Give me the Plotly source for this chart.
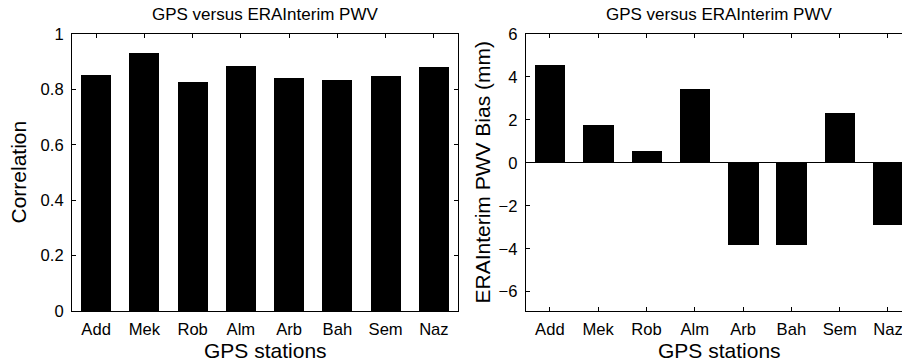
import plotly.graph_objects as go

stations = ["Add", "Mek", "Rob", "Alm", "Arb", "Bah", "Sem", "Naz"]
correlation = [0.851, 0.931, 0.827, 0.886, 0.841, 0.835, 0.847, 0.880]
bias_mm = [4.54, 1.74, 0.54, 3.42, -3.81, -3.84, 2.30, -2.91]
corr_ticks = [0, 0.2, 0.4, 0.6, 0.8, 1]
corr_ticktext = ["0", "0.2", "0.4", "0.6", "0.8", "1"]
bias_ticks = [-6, -4, -2, 0, 2, 4, 6]

title_text = "GPS versus ERAInterim PWV"
xlabel = "GPS stations"
ylabel1 = "Correlation"
ylabel2 = "ERAInterim PWV Bias (mm)"

FONT = "Liberation Sans, Arial, sans-serif"
W, H = 902, 362
ML, MR, MT, MB = 72, 0, 34, 51
PW = W - ML - MR
PH = H - MT - MB

def px_x(p):
    return (p - ML) / PW

def px_y(p):
    return 1 - (p - MT) / PH

fig = go.Figure()
fig.add_trace(go.Bar(x=stations, y=correlation, width=0.62,
                     marker=dict(color="black", line=dict(width=0)),
                     xaxis="x", yaxis="y", showlegend=False))
fig.add_trace(go.Bar(x=stations, y=bias_mm, width=0.63,
                     marker=dict(color="black", line=dict(width=0)),
                     xaxis="x2", yaxis="y2", showlegend=False))

axis_common = dict(showgrid=False, showline=True, linecolor="black", linewidth=1,
                   ticks="inside", ticklen=4, tickcolor="black", tickwidth=1,
                   tickfont=dict(family=FONT, size=16.6, color="black"))

x1_dom = [0, px_x(458)]
x2_dom = [px_x(525.7), 1]
x2_full_end = px_x(525.7 + 48.36 * 8)

fig.update_layout(
    width=W, height=H,
    margin=dict(l=ML, r=MR, t=MT, b=MB),
    paper_bgcolor="white", plot_bgcolor="white",
    bargap=0,
    font=dict(family=FONT, color="black"),
    xaxis=dict(domain=x1_dom, range=[-0.5, 7.5], mirror="ticks", anchor="y",
               zeroline=False, ticklabelstandoff=3, **axis_common),
    yaxis=dict(domain=[0, 1], range=[0, 1], tickvals=corr_ticks, ticktext=corr_ticktext,
               mirror="ticks", anchor="x", zeroline=False, ticklabelstandoff=4, **axis_common),
    xaxis2=dict(domain=x2_dom, range=[-0.5, 7.29], mirror="ticks", anchor="y2",
                zeroline=False, ticklabelstandoff=3, **axis_common),
    yaxis2=dict(domain=[0, 1], range=[-6.9, 6], tickvals=bias_ticks,
                mirror=False, anchor="x2", zeroline=True, zerolinecolor="black",
                zerolinewidth=1, ticklabelstandoff=4, **axis_common),
)

ann = []
for left, right in ((x1_dom[0], x1_dom[1]), (x2_dom[0], x2_full_end)):
    cx = (left + right) / 2
    ann.append(dict(text=title_text, xref="paper", yref="paper", x=cx,
                    y=px_y(15), xanchor="center", yanchor="middle", showarrow=False,
                    font=dict(family=FONT, size=17, color="black")))
    ann.append(dict(text=xlabel, xref="paper", yref="paper", x=cx,
                    y=px_y(350), xanchor="center", yanchor="middle", showarrow=False,
                    font=dict(family=FONT, size=21, color="black")))
ann.append(dict(text=ylabel1, xref="paper", yref="paper", x=px_x(18), y=px_y(172.5),
                xanchor="center", yanchor="middle", textangle=-90, showarrow=False,
                font=dict(family=FONT, size=21, color="black")))
ann.append(dict(text=ylabel2, xref="paper", yref="paper", x=px_x(482), y=px_y(172.5),
                xanchor="center", yanchor="middle", textangle=-90, showarrow=False,
                font=dict(family=FONT, size=21, color="black")))
fig.update_layout(annotations=ann)

fig.write_html("out.html")
